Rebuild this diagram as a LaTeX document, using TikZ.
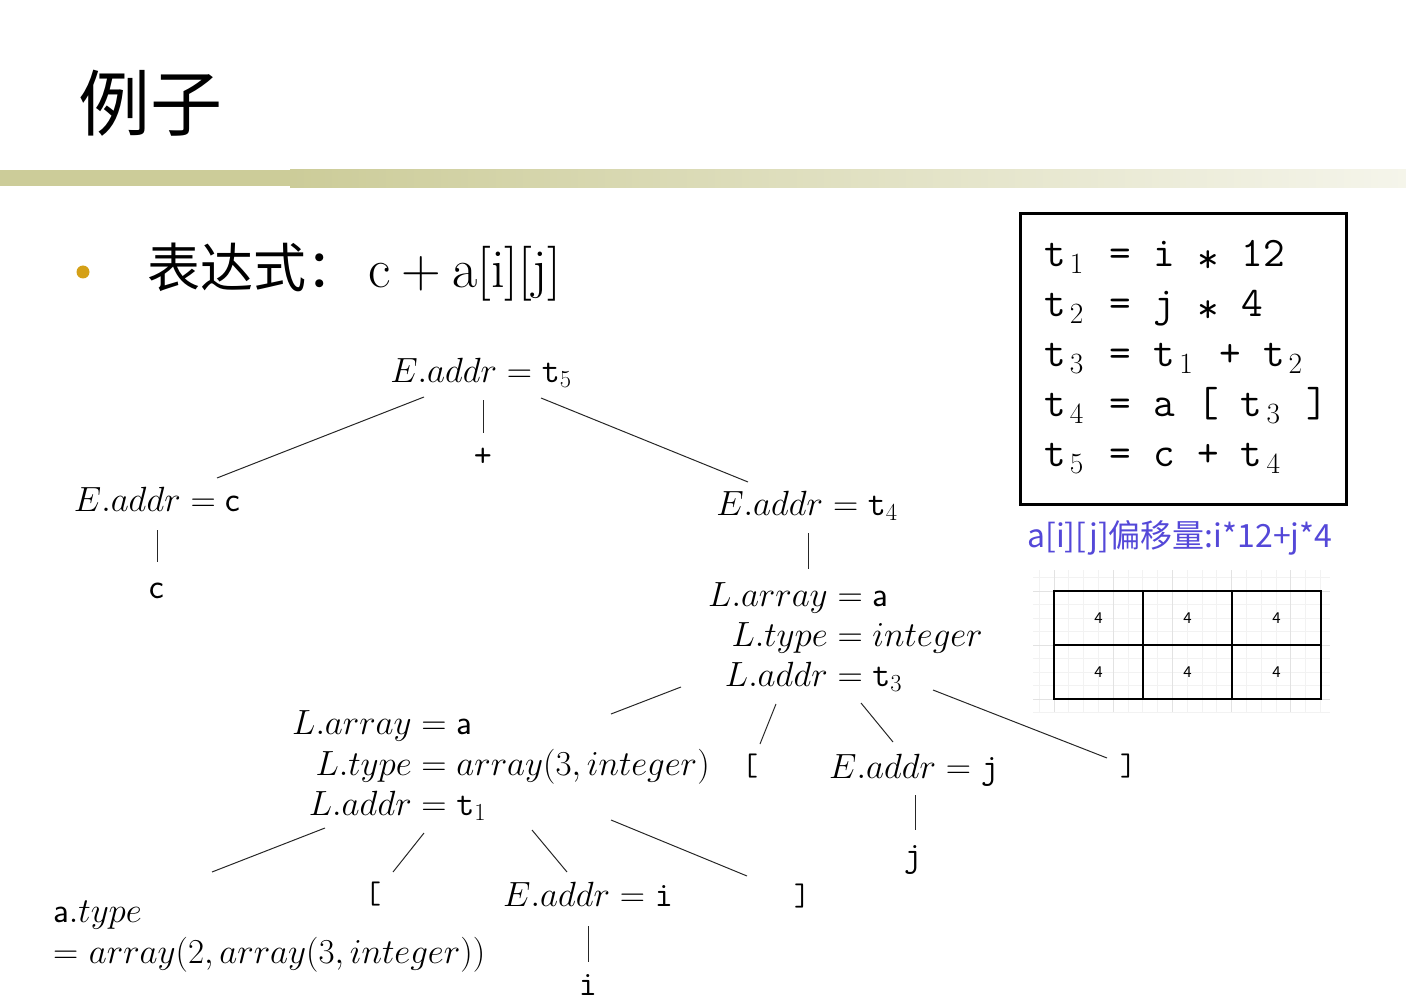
\RequirePackage{fix-cm}
\documentclass[tikz,border=0pt]{standalone}
\usepackage{amsmath}
\usepackage{fontspec}
\newfontfamily\cjkfont{Noto Sans CJK SC}
\usetikzlibrary{positioning}

\definecolor{barolive}{RGB}{204,204,153}
\definecolor{bulletgold}{RGB}{212,160,23}
\definecolor{captionblue}{RGB}{84,72,216}
\definecolor{gridminor}{RGB}{242,242,242}
\definecolor{gridmajor}{RGB}{226,226,226}

\newcommand{\treefont}{\fontsize{35}{37}\selectfont}
\newcommand{\brkfont}{\ttfamily\fontsize{31}{34}\selectfont}
\newcommand{\codefont}{\ttfamily\fontsize{42}{50}\selectfont}
\newcommand{\tgap}{\hspace{0.525em}}
\newcommand{\tast}{\makebox[0.525em]{\raisebox{-0.12em}{*}}}
\newcommand{\tsub}[1]{\makebox[0.525em]{$_{#1}$}}
\newcommand{\ttplus}{\text{\ttfamily +}}

\begin{document}
\begin{tikzpicture}[x=1pt, y=-1pt,
    attr/.style={inner sep=0pt, anchor=base, font=\treefont},
    block/.style={inner sep=0pt, anchor=base west, font=\treefont},
    brk/.style={inner sep=0pt, anchor=base, font=\brkfont},
    edge/.style={line width=1pt, black!85},
    cell/.style={draw, line width=1.4pt, minimum width=89pt, minimum height=54pt, inner sep=0pt, font=\cjkfont\fontsize{15}{18}\selectfont}
]
\useasboundingbox (0,0) rectangle (1406,1008);

% title and bar
\node[anchor=base west, inner sep=0pt, font=\cjkfont\fontsize{72}{80}\selectfont] (title) at (78,131) {例子};
\fill[barolive] (0,170) rectangle (290,186);
\shade[left color=barolive, middle color=barolive!85, right color=barolive!20] (290,170) rectangle (1406,188);

% bullet line
\node[circle, fill=bulletgold, minimum size=13pt, inner sep=0pt] (bullet) at (83,272) {};
\node[anchor=base west, inner sep=0pt] (expr) at (147,288) {{\cjkfont\fontsize{53}{60}\selectfont 表达式：}\hspace{9pt}{\fontsize{55}{60}\selectfont c\hspace{0.2em}+\hspace{0.2em}a[i][j]}};

% three-address code
\node[draw, line width=3pt, minimum width=326pt, minimum height=290pt, inner sep=0pt] (codebox) at (1183,359) {};
\node[anchor=base west, inner sep=0pt, text width=300pt, align=left, font=\codefont] (code) at (1044,267) {%
t\tsub{1}\tgap=\tgap i\tgap\tast\tgap 12\\
t\tsub{2}\tgap=\tgap j\tgap\tast\tgap 4\\
t\tsub{3}\tgap=\tgap t\tsub{1}\tgap+\tgap t\tsub{2}\\
t\tsub{4}\tgap=\tgap a\tgap[\tgap t\tsub{3}\tgap]\\
t\tsub{5}\tgap=\tgap c\tgap+\tgap t\tsub{4}};

\node[anchor=base west, inner sep=0pt, text=captionblue, font=\cjkfont\fontsize{32}{36}\selectfont] (caption) at (1027,547) {a[i][j]偏移量:i*12+j*4};

% layout grid
\foreach \k in {-1,...,18}
  \draw[gridminor, line width=0.8pt] ({1054+14.8*\k},570) -- ({1054+14.8*\k},712);
\foreach \k in {-1,...,9}
  \draw[gridminor, line width=0.8pt] (1033,{591+13.5*\k}) -- (1330,{591+13.5*\k});
\foreach \k in {0,4,...,16}
  \draw[gridmajor, line width=0.8pt] ({1054+14.8*\k},570) -- ({1054+14.8*\k},712);
\foreach \k in {0,4,8}
  \draw[gridmajor, line width=0.8pt] (1033,{591+13.5*\k}) -- (1330,{591+13.5*\k});
\foreach \r in {0,1}
  \foreach \c in {0,1,2}
    \node[cell] (cell\r\c) at ({1098.5+89*\c},{618+54*\r}) {4};

% parse tree
\node[attr] (root) at (481,382) {$E.addr = \mathtt{t}_5$};
\node[attr] (plus) at (483,466) {$\ttplus$};
\node[attr] (ec) at (157,511) {$E.addr = \mathsf{c}$};
\node[attr] (cleaf) at (157,598) {$\mathsf{c}$};
\node[attr] (et4) at (807,515) {$E.addr = \mathtt{t}_4$};
\node[block] (lb1) at (708,606) {$\begin{aligned}[t] L.array &= \mathsf{a}\\ L.type &= integer\\ L.addr &= \mathtt{t}_3\end{aligned}$};
\node[block] (lb2) at (292,734) {$\begin{aligned}[t] L.array &= \mathsf{a}\\ L.type &= array(3,integer)\\ L.addr &= \mathtt{t}_1\end{aligned}$};
\node[brk] (lbr1) at (750,775) {[};
\node[attr] (ej) at (914,778) {$E.addr = \mathtt{j}$};
\node[brk] (rbr1) at (1128,775) {]};
\node[attr] (jleaf) at (913,866) {$\mathtt{j}$};
\node[block] (atype) at (53,922) {$\begin{aligned}[t] &\mathsf{a}.type\\ &{=}\ array(2,array(3,integer))\end{aligned}$};
\node[brk] (lbr2) at (373,903) {[};
\node[attr] (ei) at (588,906) {$E.addr = \mathtt{i}$};
\node[brk] (rbr2) at (802,905) {]};
\node[attr] (ileaf) at (588,995) {$\mathtt{i}$};

\draw[edge] ([shift={(-57,15)}]root.base) -- ([shift={(60,-33)}]ec.base);
\draw[edge] ([shift={(2,18)}]root.base) -- ([shift={(0,-33)}]plus.base);
\draw[edge] ([shift={(60,16)}]root.base) -- ([shift={(-59,-33)}]et4.base);
\draw[edge] ([shift={(0,19)}]ec.base) -- ([shift={(0,-36)}]cleaf.base);
\draw[edge] ([shift={(1,18)}]et4.base) -- ([shift={(100,-37)}]lb1.base west);
\draw[edge] ([shift={(-27,81)}]lb1.base west) -- ([shift={(319,-20)}]lb2.base west);
\draw[edge] ([shift={(68,98)}]lb1.base west) -- ([shift={(10,-31)}]lbr1.base);
\draw[edge] ([shift={(153,97)}]lb1.base west) -- ([shift={(-21,-36)}]ej.base);
\draw[edge] ([shift={(225,84)}]lb1.base west) -- ([shift={(-21,-17)}]rbr1.base);
\draw[edge] ([shift={(1,17)}]ej.base) -- ([shift={(2,-36)}]jleaf.base);
\draw[edge] ([shift={(33,94)}]lb2.base west) -- ([shift={(159,-50)}]atype.base west);
\draw[edge] ([shift={(132,99)}]lb2.base west) -- ([shift={(20,-31)}]lbr2.base);
\draw[edge] ([shift={(240,96)}]lb2.base west) -- ([shift={(-21,-34)}]ei.base);
\draw[edge] ([shift={(319,86)}]lb2.base west) -- ([shift={(-55,-29)}]rbr2.base);
\draw[edge] ([shift={(0,20)}]ei.base) -- ([shift={(0,-33)}]ileaf.base);
\end{tikzpicture}
\end{document}
